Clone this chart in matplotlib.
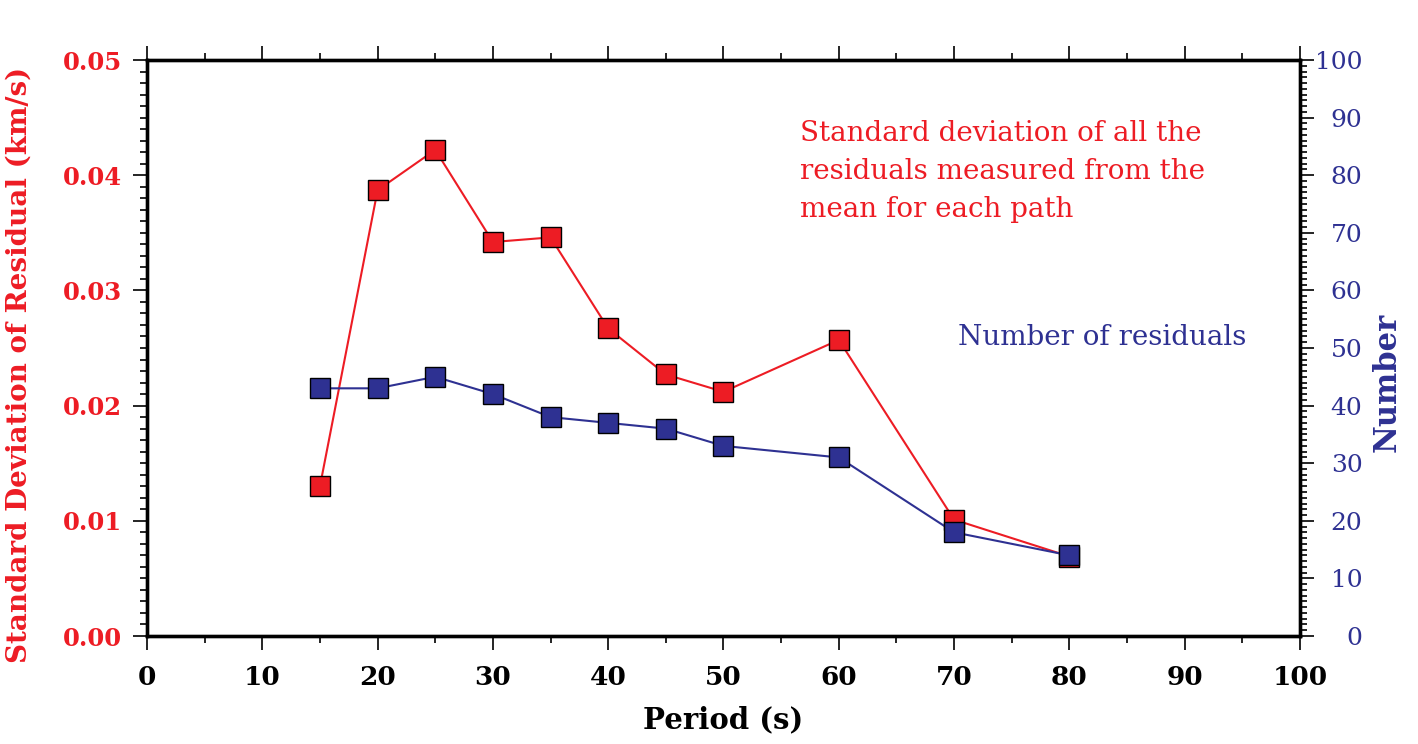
import matplotlib
matplotlib.use("Agg")
import matplotlib.pyplot as plt
from matplotlib.ticker import MultipleLocator, FormatStrFormatter

plt.rcParams['font.family'] = ['DejaVu Serif']

period = [15, 20, 25, 30, 35, 40, 45, 50, 60, 70, 80]
std_resid = [0.0130, 0.0387, 0.0422, 0.0342, 0.0346, 0.0267, 0.0227, 0.0212, 0.0257, 0.0101, 0.0069]
num_resid = [43, 43, 45, 42, 38, 37, 36, 33, 31, 18, 14]

RED = '#ED1C24'
BLUE = '#2E3192'

fig = plt.figure(figsize=(14.18, 7.44), dpi=100)
ax = fig.add_axes([147/1418, 1-636/744, (1300-147)/1418, (636-60)/744])
ax2 = ax.twinx()

ax.plot(period, std_resid, color=RED, lw=1.5, marker='s', ms=14, mfc=RED, mec='black', mew=1.0)
ax2.plot(period, num_resid, color=BLUE, lw=1.5, marker='s', ms=14, mfc=BLUE, mec='black', mew=1.0)

ax.set_xlim(0, 100)
ax.set_ylim(0, 0.05)
ax2.set_ylim(0, 100)

for a in (ax, ax2):
    for s in a.spines.values():
        s.set_linewidth(2.4)

ax.xaxis.set_major_locator(MultipleLocator(10))
ax.xaxis.set_minor_locator(MultipleLocator(5))
ax.yaxis.set_major_locator(MultipleLocator(0.01))
ax.yaxis.set_minor_locator(MultipleLocator(0.001))
ax.yaxis.set_major_formatter(FormatStrFormatter('%.2f'))
ax2.yaxis.set_major_locator(MultipleLocator(10))
ax2.yaxis.set_minor_locator(MultipleLocator(1))

ax.tick_params(axis='x', which='both', direction='out', top=True, bottom=True, width=1.2, colors='black')
ax.tick_params(axis='x', which='major', length=10, pad=11, labelsize=19)
ax.tick_params(axis='x', which='minor', length=5)
ax.tick_params(axis='y', which='both', direction='out', left=True, right=False, width=1.2)
ax.tick_params(axis='y', which='major', length=10, pad=8, labelsize=17.5, labelcolor=RED)
ax.tick_params(axis='y', which='minor', length=5)
for lab in ax.get_xticklabels() + ax.get_yticklabels():
    lab.set_fontweight('bold')

ax2.tick_params(axis='y', which='both', direction='out', width=1.2)
ax2.tick_params(axis='y', which='major', length=10, pad=35, labelsize=18, labelcolor=BLUE)
ax2.tick_params(axis='y', which='minor', length=5)
for lab in ax2.get_yticklabels():
    lab.set_horizontalalignment('right')

ax.set_xlabel('Period (s)', fontsize=21, fontweight='bold', color='black')
ax.xaxis.set_label_coords(0.5, -0.12)
ax.set_ylabel('Standard Deviation of Residual (km/s)', fontsize=20, fontweight='bold', color=RED)
ax.yaxis.set_label_coords(-0.099, 0.47)
ax2.set_ylabel('Number', fontsize=22, fontweight='bold', color=BLUE)
ax2.yaxis.set_label_coords(1.062, 0.44)

ax.text(56.6, 0.895, 'Standard deviation of all the\nresiduals measured from the\nmean for each path',
        transform=ax.get_xaxis_transform(), color=RED, fontsize=20, va='top', ha='left', linespacing=1.52)
ax2.text(70.3, 0.519, 'Number of residuals', transform=ax2.get_xaxis_transform(),
         color=BLUE, fontsize=20, va='center', ha='left')

fig.savefig('out.png', dpi=100)
